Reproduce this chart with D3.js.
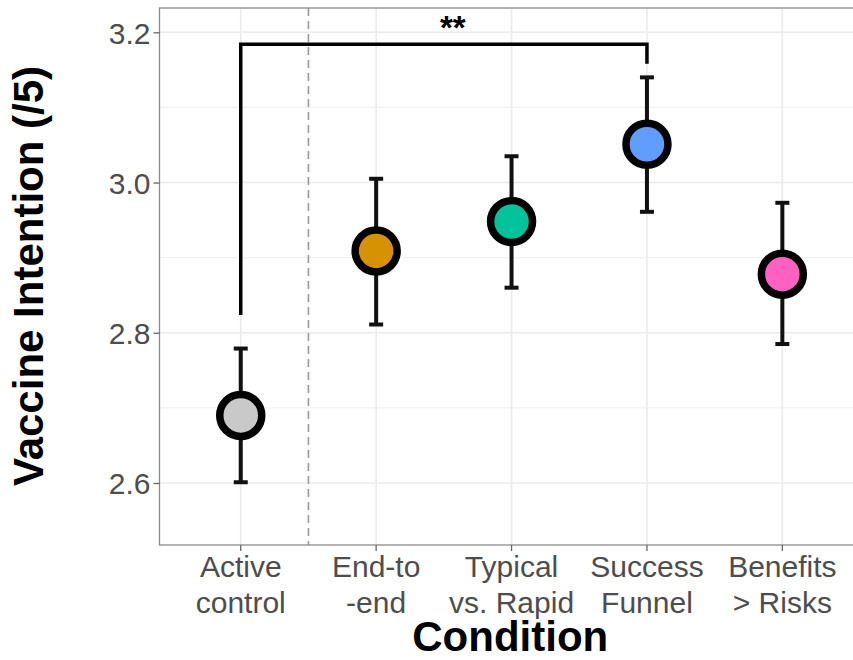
<!DOCTYPE html>
<meta charset="utf-8">
<script src="https://d3js.org/d3.v7.min.js"></script>
<style>
  body { margin: 0; background: #fff; }
  text { font-family: "Liberation Sans", Arial, sans-serif; }
</style>
<div id="chart"></div>
<script>
  // data
  var conditions = ["Active\ncontrol", "End-to\n-end", "Typical\nvs. Rapid", "Success\nFunnel", "Benefits\n> Risks"];
  var means = [2.690, 2.909, 2.948, 3.051, 2.878];
  var lower = [2.601, 2.811, 2.860, 2.961, 2.785];
  var upper = [2.779, 3.005, 3.035, 3.140, 2.973];
  var fills = ["#c9c9c9", "#d69200", "#00c39b", "#619cff", "#ff61c3"];
  var yTicks = [2.6, 2.8, 3.0, 3.2];
  var yMinor = [2.7, 2.9, 3.1];
  // significance bracket: control vs Success Funnel
  var bracket = { from: 1, to: 4, top: 3.184, leftEnd: 2.8235, rightEnd: 3.158, label: "**" };

  var width = 853, height = 660;
  var panel = { left: 159.5, top: 8, bottom: 545 };

  var svg = d3.select("#chart").append("svg")
    .attr("width", width)
    .attr("height", height)
    .style("display", "block");

  var x = d3.scaleLinear().domain([0.4, 5.6]).range([panel.left, 863.6]);
  var y = d3.scaleLinear().domain([2.6, 3.2]).range([483, 32.3]);

  var right = x(5.6);

  // grid lines
  var grid = svg.append("g");
  grid.selectAll(".minor").data(yMinor).enter().append("line")
    .attr("x1", panel.left).attr("x2", right)
    .attr("y1", d => y(d)).attr("y2", d => y(d))
    .attr("stroke", "#f0f0f0").attr("stroke-width", 1);
  grid.selectAll(".major").data(yTicks).enter().append("line")
    .attr("x1", panel.left).attr("x2", right)
    .attr("y1", d => y(d)).attr("y2", d => y(d))
    .attr("stroke", "#ebebeb").attr("stroke-width", 1.6);
  grid.selectAll(".vmajor").data(conditions).enter().append("line")
    .attr("x1", (d, i) => x(i + 1)).attr("x2", (d, i) => x(i + 1))
    .attr("y1", panel.top).attr("y2", panel.bottom)
    .attr("stroke", "#ebebeb").attr("stroke-width", 1.6);

  // dashed separator between control and interventions
  svg.append("line")
    .attr("x1", x(1.5)).attr("x2", x(1.5))
    .attr("y1", panel.top).attr("y2", panel.bottom)
    .attr("stroke", "#9a9a9a").attr("stroke-width", 1.6)
    .attr("stroke-dasharray", "8,5");

  // error bars
  var bars = svg.append("g").attr("stroke", "#111").attr("stroke-width", 4);
  conditions.forEach(function (c, i) {
    var cx = x(i + 1);
    bars.append("line").attr("x1", cx).attr("x2", cx).attr("y1", y(lower[i])).attr("y2", y(upper[i]));
    bars.append("line").attr("x1", cx - 7).attr("x2", cx + 7).attr("y1", y(lower[i])).attr("y2", y(lower[i]));
    bars.append("line").attr("x1", cx - 7).attr("x2", cx + 7).attr("y1", y(upper[i])).attr("y2", y(upper[i]));
  });

  // points
  svg.append("g").selectAll("circle").data(means).enter().append("circle")
    .attr("cx", (d, i) => x(i + 1))
    .attr("cy", d => y(d))
    .attr("r", 21)
    .attr("fill", (d, i) => fills[i])
    .attr("stroke", "#000")
    .attr("stroke-width", 7.5);

  // bracket
  svg.append("path")
    .attr("d", "M" + x(bracket.from) + "," + y(bracket.leftEnd) +
      "V" + y(bracket.top) + "H" + x(bracket.to) + "V" + y(bracket.rightEnd))
    .attr("fill", "none").attr("stroke", "#000").attr("stroke-width", 3.5);
  svg.append("text")
    .attr("x", (x(bracket.from) + x(bracket.to)) / 2 + 9)
    .attr("y", y(bracket.top) - 5)
    .attr("text-anchor", "middle")
    .style("font-size", "33px").style("font-weight", "bold")
    .text(bracket.label);

  // panel border
  svg.append("rect")
    .attr("x", panel.left).attr("y", panel.top)
    .attr("width", right - panel.left).attr("height", panel.bottom - panel.top)
    .attr("fill", "none").attr("stroke", "#8a8a8a").attr("stroke-width", 1.3);

  // y axis
  var yAxis = svg.append("g")
    .attr("transform", "translate(" + panel.left + ",0)")
    .call(d3.axisLeft(y).tickValues(yTicks).tickFormat(d3.format(".1f")).tickSize(6).tickPadding(3));
  yAxis.select(".domain").remove();
  yAxis.selectAll(".tick line").attr("stroke", "#666").attr("stroke-width", 1.3);
  yAxis.selectAll(".tick text").attr("fill", "#4d4d4d")
    .style("font-size", "30px").attr("dy", "0.36em");

  // x axis
  var xAxis = svg.append("g").attr("transform", "translate(0," + panel.bottom + ")");
  conditions.forEach(function (c, i) {
    var cx = x(i + 1);
    xAxis.append("line").attr("x1", cx).attr("x2", cx).attr("y1", 0).attr("y2", 6)
      .attr("stroke", "#666").attr("stroke-width", 1.3);
    var t = xAxis.append("text").attr("text-anchor", "middle").attr("fill", "#4d4d4d")
      .style("font-size", "30px");
    c.split("\n").forEach(function (line, k) {
      t.append("tspan").attr("x", cx).attr("y", 32 + k * 36).text(line);
    });
  });

  // axis titles
  svg.append("text")
    .attr("x", (panel.left + 853) / 2 + 4)
    .attr("y", 651)
    .attr("text-anchor", "middle")
    .style("font-size", "42px").style("font-weight", "bold")
    .text("Condition");

  svg.append("text")
    .attr("transform", "translate(43," + 276 + ") rotate(-90)")
    .attr("text-anchor", "middle")
    .style("font-size", "42px").style("font-weight", "bold")
    .text("Vaccine Intention (/5)");
</script>
